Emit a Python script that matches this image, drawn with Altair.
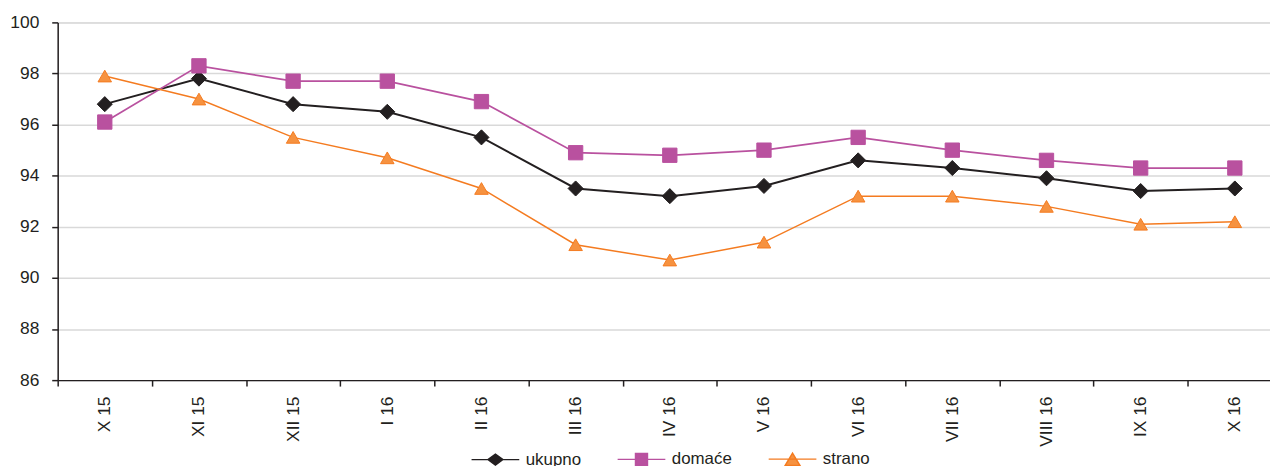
import altair as alt
import pandas as pd

months = ["X 15", "XI 15", "XII 15", "I 16", "II 16", "III 16", "IV 16",
          "V 16", "VI 16", "VII 16", "VIII 16", "IX 16", "X 16"]
series = ["ukupno", "domaće", "strano"]
ukupno = [96.8, 97.8, 96.8, 96.5, 95.5, 93.5, 93.2, 93.6, 94.6, 94.3, 93.9, 93.4, 93.5]
domace = [96.1, 98.3, 97.7, 97.7, 96.9, 94.9, 94.8, 95.0, 95.5, 95.0, 94.6, 94.3, 94.3]
strano = [97.9, 97.0, 95.5, 94.7, 93.5, 91.3, 90.7, 91.4, 93.2, 93.2, 92.8, 92.1, 92.2]
y_ticks = [86, 88, 90, 92, 94, 96, 98, 100]

line_colors = ["#231F20", "#B9519F", "#F47B20"]
fill_colors = ["#231F20", "#B9519F", "#F69240"]
shapes = ["diamond", "square", "triangle-up"]
sizes = [230, 185, 320]
line_widths = [2.0, 1.5, 1.8]
legend_paths = [
    "M-4.8,0H4.8M-1.5,0L0,-1.1L1.5,0L0,1.1Z",
    "M-4.8,0H4.8M-1.2,-1.2H1.2V1.2H-1.2Z",
    "M-4.8,0H4.8M-1.5,1.3L0,-1.2L1.5,1.3Z",
]

rows = []
for name, vals in zip(series, [ukupno, domace, strano]):
    for m, v in zip(months, vals):
        rows.append({"month": m, "series": name, "value": v})
df = pd.DataFrame(rows)

FONT = "Liberation Sans, Arial"

x_enc = alt.X(
    "month:N", sort=months, title=None,
    scale=alt.Scale(paddingInner=0, paddingOuter=0, range=[0, 1232]),
    axis=alt.Axis(labelAngle=270, tickBand="extent", labelPadding=10, tickSize=6,
                  tickColor="#231F20", tickWidth=1.5, domainColor="#231F20",
                  domainWidth=1.5, labelFont=FONT, labelFontSize=17.5,
                  labelColor="#231F20", grid=False),
)
y_enc = alt.Y(
    "value:Q", title=None,
    scale=alt.Scale(domain=[86, 100], zero=False, nice=False),
    axis=alt.Axis(values=y_ticks, tickSize=6, tickColor="#231F20", tickWidth=1.5,
                  domainColor="#231F20", domainWidth=1.5, labelPadding=13,
                  labelFont=FONT, labelFontSize=17.5, labelColor="#231F20",
                  grid=True, gridColor="#D9D9D9", gridWidth=1.5),
)

legend = alt.Legend(
    title=None, orient="none", direction="horizontal", legendX=432, legendY=431,
    padding=0, symbolSize=100, labelOffset=22, columnPadding=33,
    labelFont=FONT, labelFontSize=17, labelColor="#231F20",
    symbolStrokeWidth=1.5,
)

lines = alt.Chart(df).mark_line().encode(
    x=x_enc, y=y_enc,
    color=alt.Color("series:N", sort=series,
                    scale=alt.Scale(domain=series, range=line_colors), legend=None),
    strokeWidth=alt.StrokeWidth("series:N",
                                scale=alt.Scale(domain=series, range=line_widths),
                                legend=None),
)

points = alt.Chart(df).mark_point(filled=True, opacity=1, strokeWidth=1).encode(
    x=x_enc, y=y_enc,
    stroke=alt.Stroke("series:N", scale=alt.Scale(domain=series, range=line_colors), legend=None),
    fill=alt.Fill("series:N", scale=alt.Scale(domain=series, range=fill_colors), legend=None),
    shape=alt.Shape("series:N", scale=alt.Scale(domain=series, range=shapes), legend=None),
    size=alt.Size("series:N", scale=alt.Scale(domain=series, range=sizes), legend=None),
)

# legend-only layer: no rows survive the filter, the legend comes from the scale domains
legend_layer = alt.Chart(df).transform_filter("datum.value > 1000").mark_point(
    filled=True, opacity=1
).encode(
    x=x_enc, y=y_enc,
    stroke=alt.Stroke("series:N", scale=alt.Scale(domain=series, range=line_colors), legend=legend),
    fill=alt.Fill("series:N", scale=alt.Scale(domain=series, range=fill_colors), legend=legend),
    shape=alt.Shape("series:N", scale=alt.Scale(domain=series, range=legend_paths), legend=legend),
)

chart = alt.layer(lines, points, legend_layer).resolve_scale(
    shape="independent", fill="independent", stroke="independent"
).properties(
    width=1220, height=360,
    autosize=alt.AutoSizeParams(type="none"),
    padding={"left": 50, "top": 13, "right": 0, "bottom": 95},
).configure_view(stroke=None).configure(background="white")

chart.save("out.html", embed_options={"renderer": "svg", "actions": False})
